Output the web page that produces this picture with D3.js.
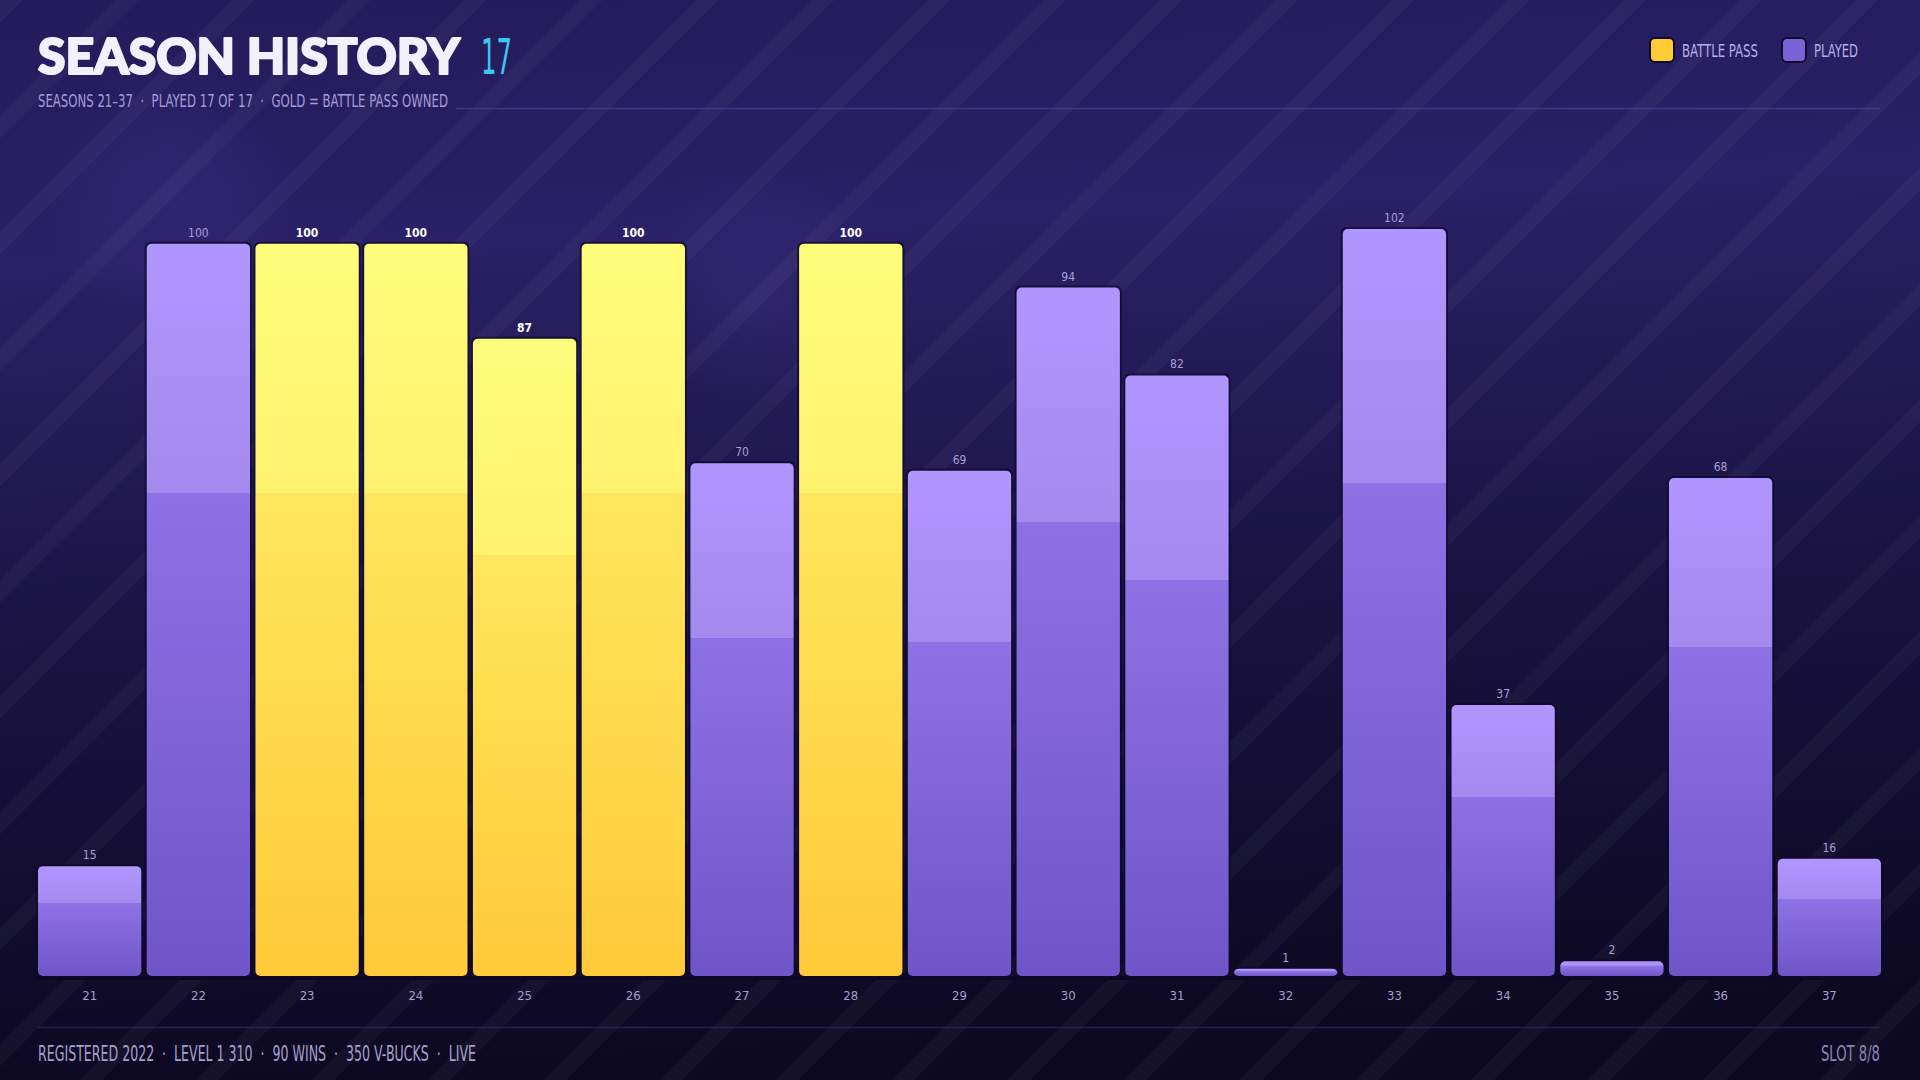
<!DOCTYPE html>
<html>
<head>
<meta charset="utf-8">
<script src="https://cdn.jsdelivr.net/npm/d3@7"></script>
<style>
  html, body { margin: 0; padding: 0; background: #0e0a24; }
  svg { display: block; }
  .cond { font-family: 'Liberation Sans Narrow', 'DejaVu Sans Condensed', 'Roboto', sans-serif; }
  .pre { white-space: pre; }
</style>
</head>
<body>
<div id="chart"></div>
<script>
// data
var seasons = ["21","22","23","24","25","26","27","28","29","30","31","32","33","34","35","36","37"];
var levels  = [15, 100, 100, 100, 87, 100, 70, 100, 69, 94, 82, 1, 102, 37, 2, 68, 16];
var battlePass = [0, 0, 1, 1, 1, 1, 0, 1, 0, 0, 0, 0, 0, 0, 0, 0, 0];
var legendLabels = ["BATTLE PASS", "PLAYED"];
var titleText = "SEASON HISTORY";
var titleCount = "17";
var subtitleText = "SEASONS 21\u201337  \u00b7  PLAYED 17 OF 17  \u00b7  GOLD = BATTLE PASS OWNED";
var footerText = "REGISTERED 2022  \u00b7  LEVEL 1 310  \u00b7  90 WINS  \u00b7  350 V-BUCKS  \u00b7  LIVE";
var slotText = "SLOT 8/8";

var W = 1920, H = 1080;
var margin = {top: 229, right: 39, bottom: 104, left: 38};
var plotBottom = H - margin.bottom;

var svg = d3.select("#chart")
  .append("svg")
    .attr("width", W)
    .attr("height", H);

var defs = svg.append("defs");

// background gradient
var bg = defs.append("linearGradient").attr("id", "bg")
  .attr("x1", 0).attr("y1", 0).attr("x2", 0.1).attr("y2", 1);
bg.append("stop").attr("offset", 0).attr("stop-color", "#241b5c");
bg.append("stop").attr("offset", 0.25).attr("stop-color", "#2a2166");
bg.append("stop").attr("offset", 0.6).attr("stop-color", "#1a1342");
bg.append("stop").attr("offset", 1).attr("stop-color", "#0d0922");

// diagonal stripes
var pat = defs.append("pattern").attr("id", "stripes")
  .attr("patternUnits", "userSpaceOnUse")
  .attr("width", 82).attr("height", 82)
  .attr("patternTransform", "rotate(45)");
pat.append("rect").attr("x", 0).attr("y", 0).attr("width", 16).attr("height", 82)
  .attr("fill", "#ffffff").attr("opacity", 0.03);

// soft glows
var glow = defs.append("radialGradient").attr("id", "glow");
glow.append("stop").attr("offset", 0).attr("stop-color", "#6a58c8").attr("stop-opacity", 0.12);
glow.append("stop").attr("offset", 1).attr("stop-color", "#6a58c8").attr("stop-opacity", 0);

// bar gradients
function barGradient(id, c) {
  var g = defs.append("linearGradient").attr("id", id)
    .attr("x1", 0).attr("y1", 0).attr("x2", 0).attr("y2", 1);
  g.append("stop").attr("offset", 0).attr("stop-color", c[0]);
  g.append("stop").attr("offset", 0.34).attr("stop-color", c[1]);
  g.append("stop").attr("offset", 0.34).attr("stop-color", c[2]);
  g.append("stop").attr("offset", 1).attr("stop-color", c[3]);
}
barGradient("gold", ["#fffd7c", "#fff26e", "#ffe65c", "#ffca3a"]);
barGradient("purple", ["#b096ff", "#a48aee", "#8d72e6", "#6e56c8"]);

svg.append("rect").attr("width", W).attr("height", H).attr("fill", "url(#bg)");
svg.append("circle").attr("cx", 170).attr("cy", 190).attr("r", 130).attr("fill", "url(#glow)");
svg.append("circle").attr("cx", 760).attr("cy", 290).attr("r", 120).attr("fill", "url(#glow)");
svg.append("rect").attr("width", W).attr("height", H).attr("fill", "url(#stripes)");

// header
svg.append("text")
  .attr("x", 38).attr("y", 74)
  .attr("font-family", "Lato, 'Noto Sans', sans-serif")
  .attr("font-weight", 900)
  .attr("font-size", 50)
  .attr("fill", "#f2f0fa")
  .attr("stroke", "#f2f0fa")
  .attr("stroke-width", 2.2)
  .attr("stroke-linejoin", "round")
  .attr("textLength", 422)
  .attr("lengthAdjust", "spacingAndGlyphs")
  .text(titleText);

svg.append("text")
  .attr("class", "cond")
  .attr("x", 481).attr("y", 74)
  .attr("font-size", 50)
  .attr("fill", "#3cc8f0")
  .attr("textLength", 31)
  .attr("lengthAdjust", "spacingAndGlyphs")
  .text(titleCount);

svg.append("text")
  .attr("class", "cond pre")
  .attr("x", 38).attr("y", 107)
  .attr("font-size", 18)
  .attr("fill", "#a59dd6")
  .attr("textLength", 410)
  .attr("lengthAdjust", "spacingAndGlyphs")
  .text(subtitleText);

svg.append("line")
  .attr("x1", 456).attr("x2", 1880)
  .attr("y1", 108.5).attr("y2", 108.5)
  .attr("stroke", "#5a4ca0").attr("stroke-opacity", 0.55).attr("stroke-width", 1.5);

// legend
var legendColors = ["#ffcc33", "#7a62d8"];
var legendX = [1650, 1782];
var legendW = [76, 44];
var legend = svg.append("g").selectAll("g")
  .data(legendLabels)
  .enter().append("g")
    .attr("transform", function(d, i) { return "translate(" + legendX[i] + ",38)"; });
legend.append("rect")
  .attr("width", 24).attr("height", 24).attr("rx", 5)
  .attr("fill", function(d, i) { return legendColors[i]; })
  .attr("stroke", "#100a2c").attr("stroke-width", 2);
legend.append("text")
  .attr("class", "cond")
  .attr("x", 32).attr("y", 19)
  .attr("font-size", 18)
  .attr("fill", "#b8b0e6")
  .attr("textLength", function(d, i) { return legendW[i]; })
  .attr("lengthAdjust", "spacingAndGlyphs")
  .text(function(d) { return d; });

// scales
var x = d3.scaleBand()
  .domain(seasons)
  .range([margin.left, W - margin.right])
  .paddingInner(0.05)
  .paddingOuter(0);

var y = d3.scaleLinear()
  .domain([0, 102])
  .range([plotBottom, margin.top]);

var rows = seasons.map(function(s, i) {
  return {season: s, value: levels[i], bp: battlePass[i]};
});

// dark baseline
svg.append("line")
  .attr("x1", margin.left - 2).attr("x2", W - margin.right + 2)
  .attr("y1", plotBottom + 2).attr("y2", plotBottom + 2)
  .attr("stroke", "#0b0720").attr("stroke-width", 4);

// bar shadows
svg.append("g").selectAll("rect")
  .data(rows)
  .enter().append("rect")
    .attr("x", function(d) { return x(d.season) - 2; })
    .attr("y", function(d) { return y(d.value) - 2; })
    .attr("width", x.bandwidth() + 4)
    .attr("height", function(d) { return plotBottom - y(d.value) + 5; })
    .attr("rx", 6)
    .attr("fill", "#0e0928")
    .attr("opacity", 0.7);

// bars
svg.append("g").selectAll("rect")
  .data(rows)
  .enter().append("rect")
    .attr("x", function(d) { return x(d.season); })
    .attr("y", function(d) { return y(d.value); })
    .attr("width", x.bandwidth())
    .attr("height", function(d) { return plotBottom - y(d.value); })
    .attr("rx", 5)
    .attr("fill", function(d) { return d.bp ? "url(#gold)" : "url(#purple)"; });

// value labels
svg.append("g").selectAll("text")
  .data(rows)
  .enter().append("text")
    .attr("class", "cond")
    .attr("x", function(d) { return x(d.season) + x.bandwidth() / 2; })
    .attr("y", function(d) { return y(d.value) - 7; })
    .attr("text-anchor", "middle")
    .attr("font-size", 12)
    .attr("font-weight", function(d) { return d.bp ? 700 : 400; })
    .attr("fill", function(d) { return d.bp ? "#ffffff" : "#a99fd8"; })
    .text(function(d) { return d.value; });

// x axis
var xAxis = svg.append("g")
  .attr("transform", "translate(0," + (plotBottom + 10) + ")")
  .call(d3.axisBottom(x).tickSize(0).tickPadding(5));
xAxis.select(".domain").remove();
xAxis.selectAll("text")
  .attr("class", "cond")
  .attr("font-size", 13)
  .attr("fill", "#a69ecc");

// footer
svg.append("line")
  .attr("x1", 38).attr("x2", 1880)
  .attr("y1", 1027.5).attr("y2", 1027.5)
  .attr("stroke", "#3a3070").attr("stroke-opacity", 0.6).attr("stroke-width", 1.5);

svg.append("text")
  .attr("class", "cond pre")
  .attr("x", 38).attr("y", 1061)
  .attr("font-size", 22)
  .attr("fill", "#a8a0cc")
  .attr("textLength", 438)
  .attr("lengthAdjust", "spacingAndGlyphs")
  .text(footerText);

svg.append("text")
  .attr("class", "cond")
  .attr("x", 1880).attr("y", 1061)
  .attr("text-anchor", "end")
  .attr("font-size", 22)
  .attr("fill", "#8c84b4")
  .attr("textLength", 59)
  .attr("lengthAdjust", "spacingAndGlyphs")
  .text(slotText);
</script>
</body>
</html>
